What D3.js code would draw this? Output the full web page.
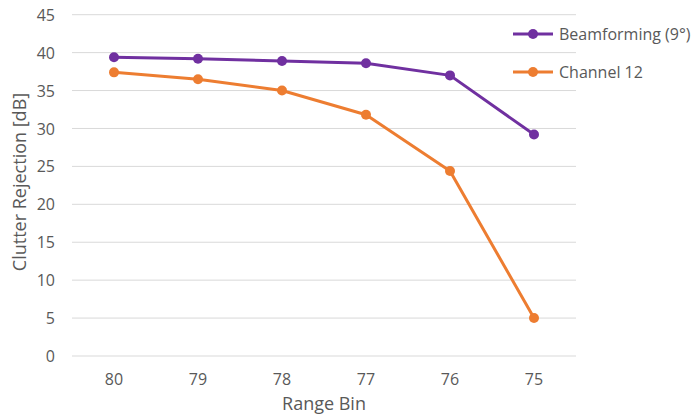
<!DOCTYPE html>
<html><head><meta charset="utf-8">
<script src="https://cdn.jsdelivr.net/npm/d3@7"></script>
<style>body{margin:0;background:#fff}svg{display:block}text{font-family:"Open Sans",sans-serif;fill:#595959}</style>
</head><body>
<svg id="c" width="691" height="419"></svg>
<script>
const categories = ["80","79","78","77","76","75"];
const beamforming = [39.4, 39.2, 38.9, 38.6, 37.0, 29.2];
const channel12 = [37.4, 36.5, 35.0, 31.8, 24.4, 5.0];
const yTicks = [0,5,10,15,20,25,30,35,40,45];
const seriesNames = ["Beamforming (9°)", "Channel 12"];
const colors = ["#7030A0", "#ED7D31"];

(function(){
const svg = d3.select("#c");
const mL = 72, mR = 576, mT = 14.7, mB = 356;
const x = d3.scaleBand().domain(categories).range([mL, mR]);
const y = d3.scaleLinear().domain([0,45]).range([mB, mT]);

svg.append("g").selectAll("line").data(yTicks).join("line")
  .attr("x1", mL).attr("x2", mR)
  .attr("y1", d=>y(d)).attr("y2", d=>y(d))
  .attr("stroke", "#d9d9d9").attr("stroke-width", 1);

const ya = svg.append("g").attr("transform", `translate(${mL-17},0)`)
  .call(d3.axisLeft(y).tickValues(yTicks).tickSize(0).tickPadding(0));
ya.select(".domain").remove();
ya.selectAll("text").style("font-size","16px").attr("fill","#595959").attr("dy","0.35em");

const xa = svg.append("g").attr("transform", `translate(0,${mB+18})`)
  .call(d3.axisBottom(x).tickSize(0).tickPadding(0));
xa.select(".domain").remove();
xa.selectAll("text").style("font-size","16px").attr("fill","#595959").attr("dy","0.71em");

svg.append("text").attr("x", (mL+mR)/2).attr("y", 410).attr("text-anchor","middle")
  .style("font-size","18px").text("Range Bin");
svg.append("text").attr("transform", `translate(26,182) rotate(-90)`)
  .attr("text-anchor","middle").style("font-size","18px").text("Clutter Rejection [dB]");

const data = [beamforming, channel12];
const line = d3.line().x((d,i)=>x(categories[i])+x.bandwidth()/2).y(d=>y(d));
data.forEach((vals, si) => {
  const g = svg.append("g");
  g.append("path").datum(vals).attr("d", line).attr("fill","none")
    .attr("stroke", colors[si]).attr("stroke-width", 3).attr("stroke-linejoin","round");
  g.selectAll("circle").data(vals).join("circle")
    .attr("cx", (d,i)=>x(categories[i])+x.bandwidth()/2).attr("cy", d=>y(d))
    .attr("r", 5).attr("fill", colors[si]);
});

const legY = [34, 72];
seriesNames.forEach((name, i) => {
  const g = svg.append("g").attr("transform", `translate(513,${legY[i]})`);
  g.append("line").attr("x1",0).attr("x2",40).attr("stroke",colors[i]).attr("stroke-width",3);
  g.append("circle").attr("cx",20).attr("r",5).attr("fill",colors[i]);
  g.append("text").attr("x",46).attr("dy","0.35em").style("font-size","16px").text(name);
});
})();
</script>
</body></html>
